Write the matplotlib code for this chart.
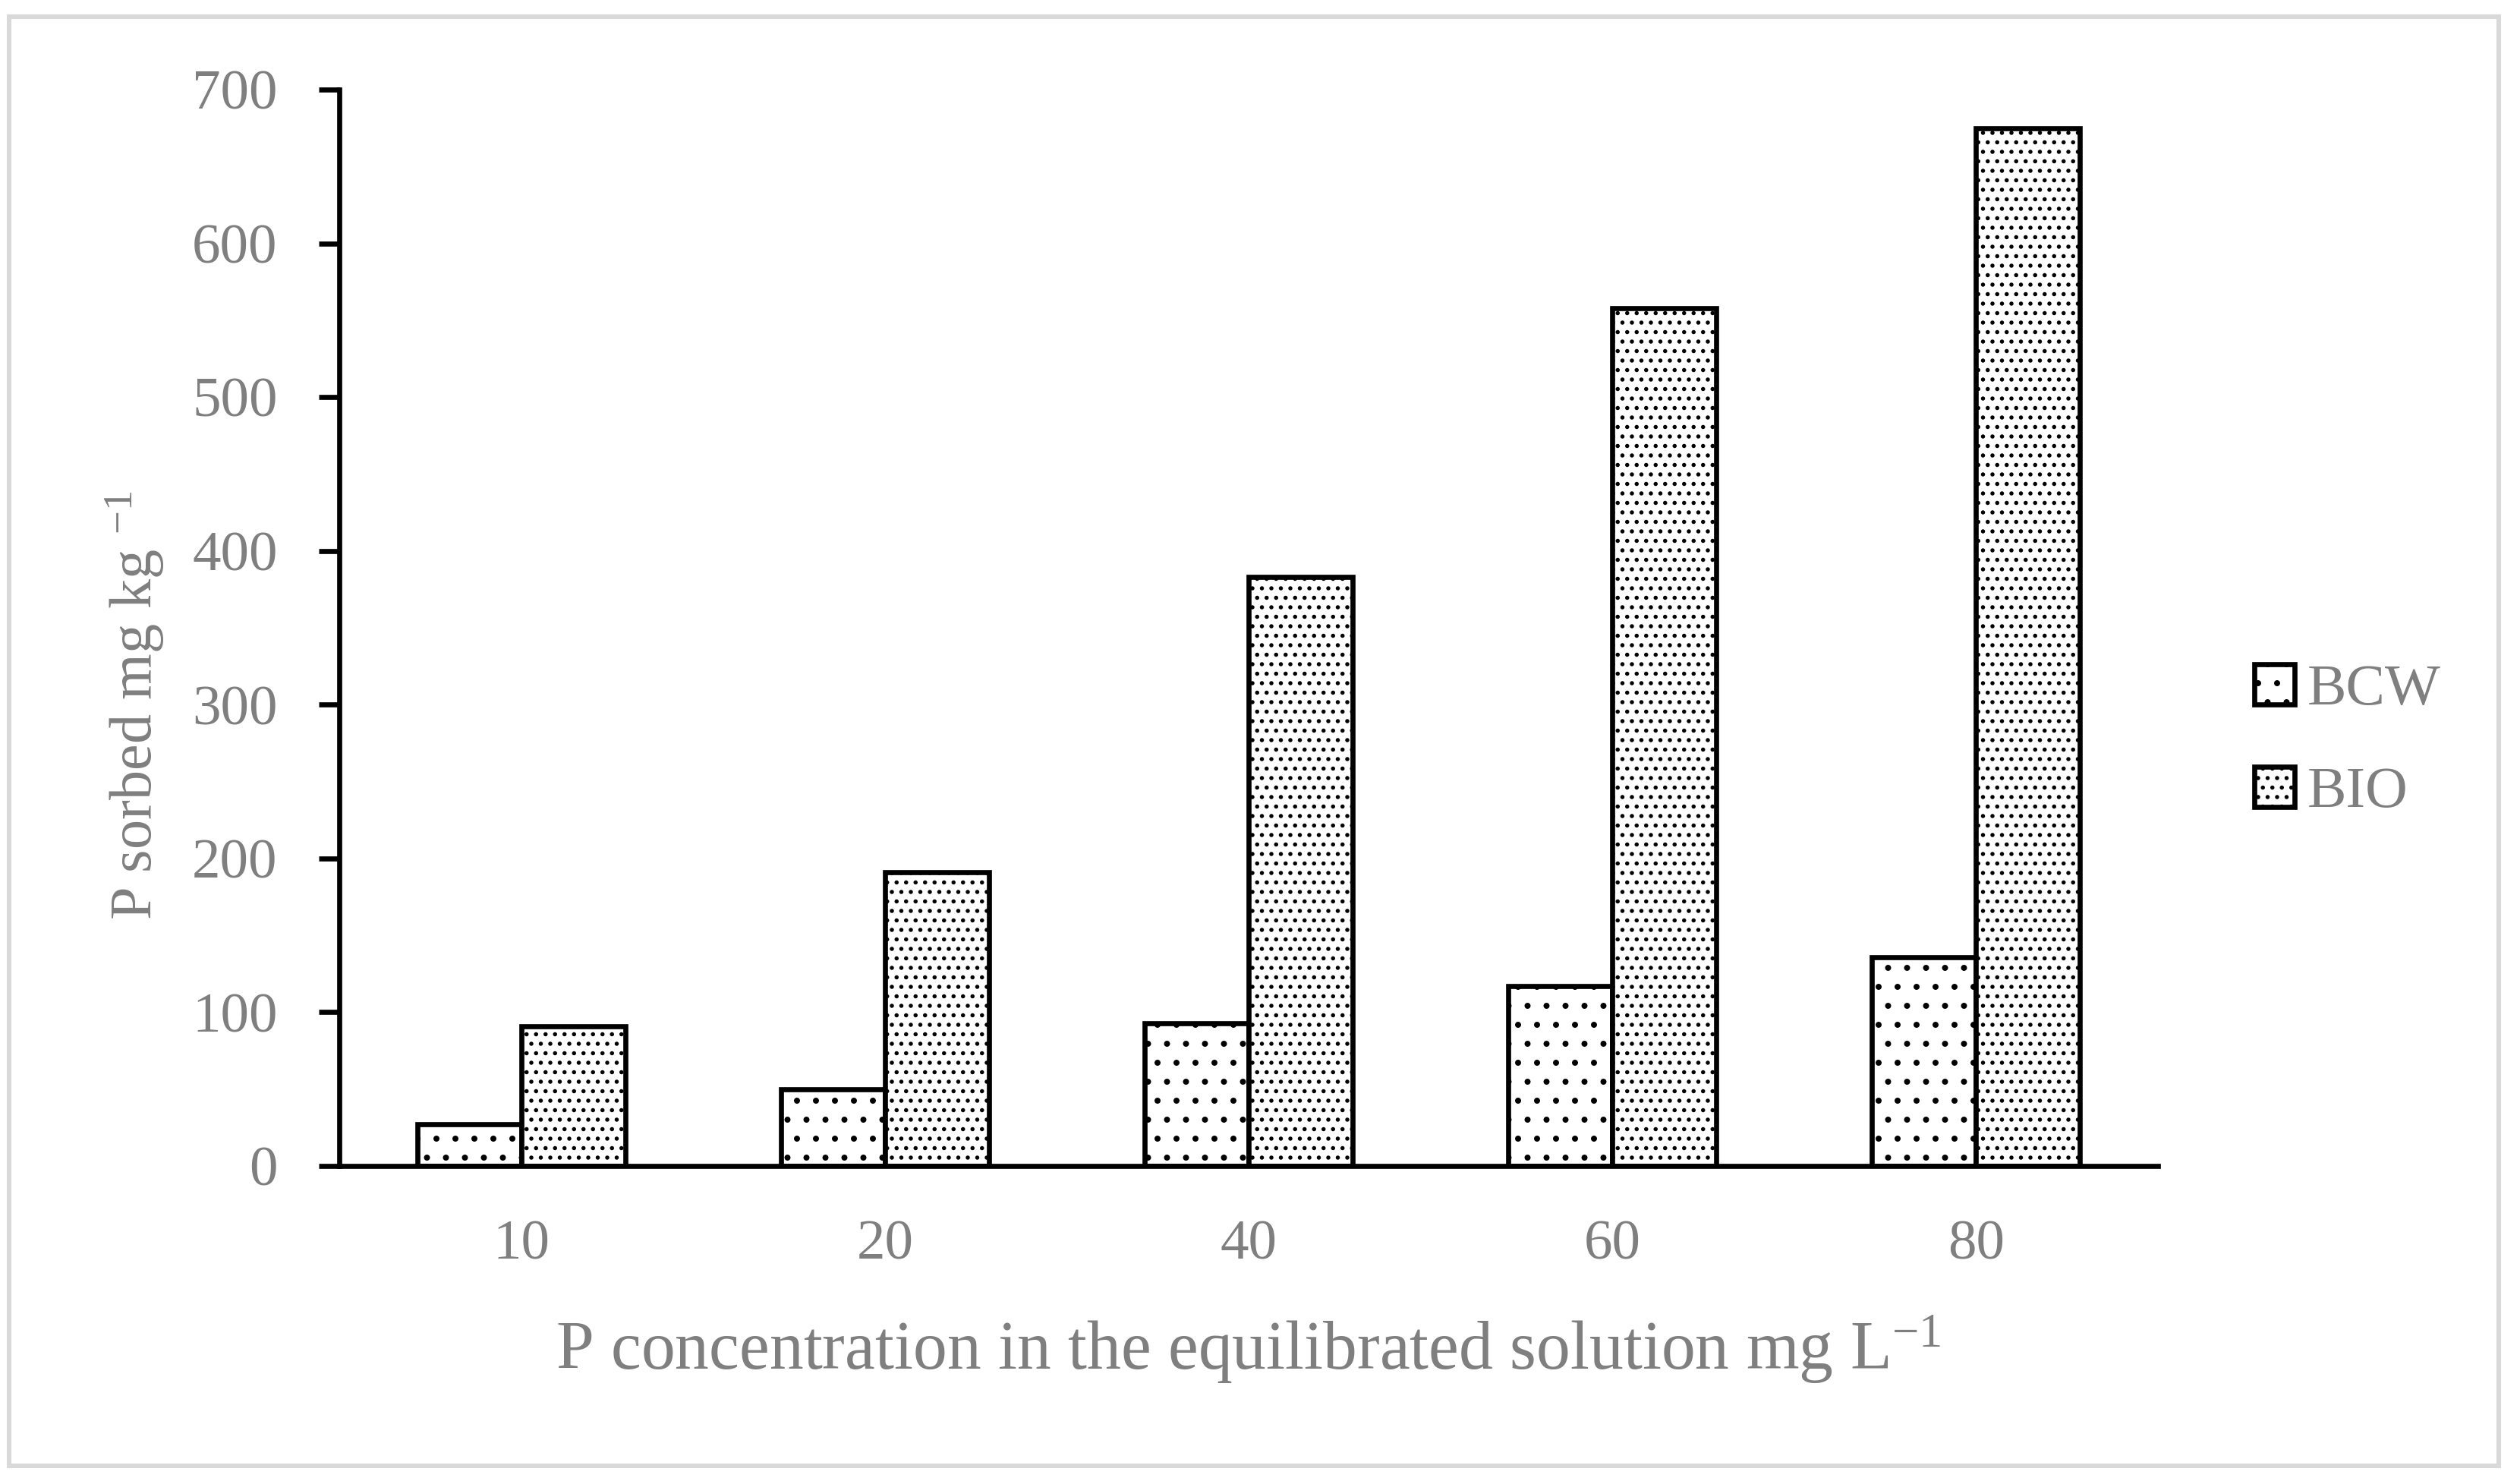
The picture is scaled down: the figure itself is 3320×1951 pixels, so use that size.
import numpy as np
import matplotlib
matplotlib.use('Agg')
import matplotlib.pyplot as plt
from matplotlib.patches import Rectangle

# data
categories = ['10', '20', '40', '60', '80']
bcw = [27, 50, 93, 117, 136]
bio = [91, 191, 383, 558, 675]
series_names = ['BCW', 'BIO']
y_ticks = [0, 100, 200, 300, 400, 500, 600, 700]

GRAY = '#7f7f7f'
plt.rcParams['font.family'] = ['Liberation Serif', 'DejaVu Serif']
plt.rcParams['mathtext.fontset'] = 'custom'
plt.rcParams['mathtext.rm'] = 'Liberation Serif'
plt.rcParams['mathtext.it'] = 'Liberation Serif:italic'
plt.rcParams['hatch.linewidth'] = 1.4
plt.rcParams['hatch.color'] = 'black'

W, H, DPI = 3320, 1951, 150
LW = 3.2
fig = plt.figure(figsize=(W / DPI, H / DPI), dpi=DPI)
ax = fig.add_axes([447 / W, 1 - 1536 / H, (2843 - 447) / W, (1536 - 118) / H])

x = np.arange(len(categories))
width = 0.286
ax.bar(x - width / 2, bcw, width, color='white', edgecolor='black',
       linewidth=LW, hatch='.', label=series_names[0])
ax.bar(x + width / 2, bio, width, color='white', edgecolor='black',
       linewidth=LW, hatch='..', label=series_names[1])

ax.set_xlim(-0.5, len(categories) - 0.5)
ax.set_ylim(0, 700)
ax.set_yticks(y_ticks)
ax.set_xticks(x)
ax.set_xticklabels(categories)

for side in ['top', 'right']:
    ax.spines[side].set_visible(False)
for side in ['left', 'bottom']:
    ax.spines[side].set_linewidth(LW)
    ax.spines[side].set_color('black')

ax.tick_params(axis='y', length=13, width=LW, color='black', pad=26,
               labelsize=36, labelcolor=GRAY)
ax.tick_params(axis='x', length=0, pad=34, labelsize=36, labelcolor=GRAY)

ax.set_ylabel(r'P sorbed mg kg $^{\mathrm{-1}}$', fontsize=37.5, color=GRAY)
ax.yaxis.set_label_coords(-0.095, 0.428)
ax.set_xlabel(r'P concentration in the equilibrated solution mg L$^{\mathrm{-1}}$',
              fontsize=43, color=GRAY, labelpad=27)

leg = fig.legend(loc='center left', bbox_to_anchor=(2970 / W, 1 - 977 / H),
                 frameon=False, fontsize=37, labelcolor=GRAY,
                 handlelength=0.69, handleheight=0.69, handletextpad=0.22,
                 labelspacing=0.85, borderpad=0, borderaxespad=0)
for p in leg.get_patches():
    p.set_linewidth(LW)

# light gray frame around the whole chart
fig.patches.append(Rectangle((12 / W, 1 - 1931 / H), (3292 - 12) / W, (1931 - 22) / H,
                             transform=fig.transFigure, fill=False,
                             edgecolor='#d9d9d9', linewidth=2.9))

fig.savefig('out.png', dpi=DPI)
